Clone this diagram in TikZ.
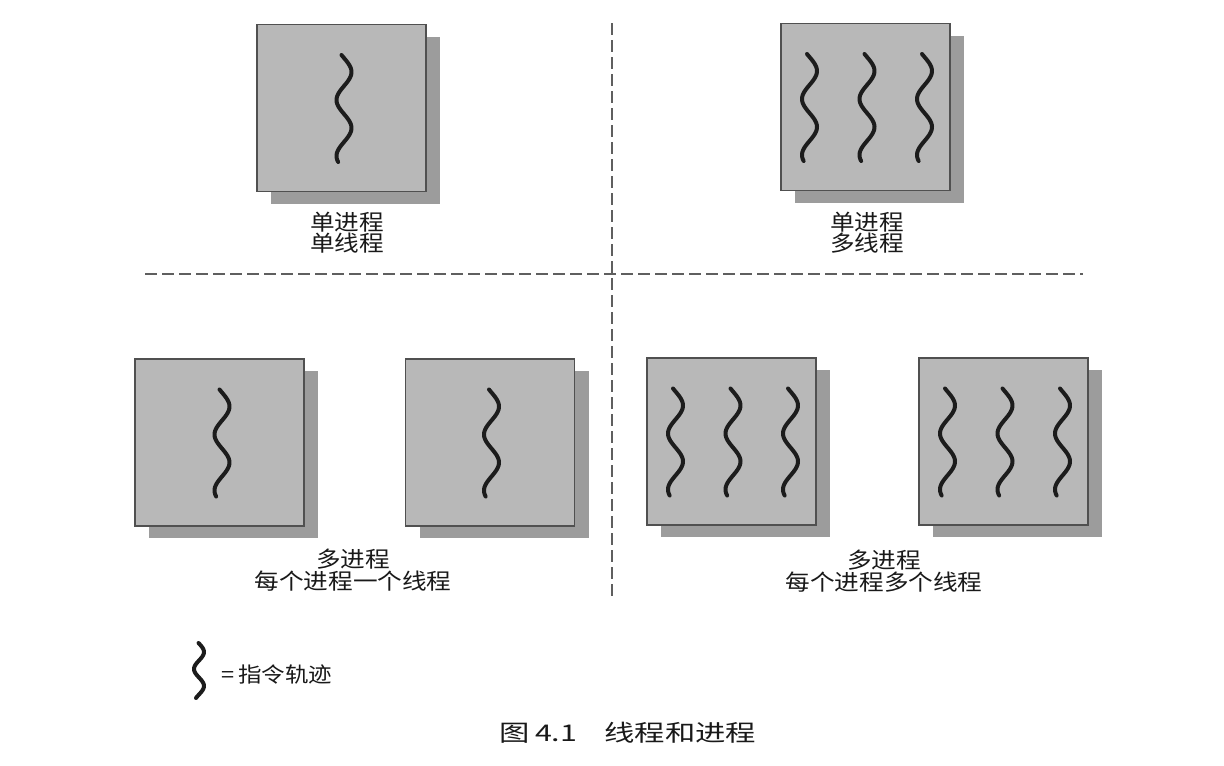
\documentclass[tikz,border=0pt]{standalone}
\usepackage{fontspec}
\setmainfont{Noto Sans CJK SC}
\usetikzlibrary{shadows}
\definecolor{boxfill}{RGB}{184,184,184}
\definecolor{shadowc}{RGB}{156,156,156}
\definecolor{edgec}{RGB}{80,80,80}
\definecolor{threadc}{RGB}{28,28,28}
\definecolor{labelc}{RGB}{25,25,25}
\definecolor{dashc}{RGB}{95,95,95}
\newcommand{\widetext}[2][1.12]{\scalebox{#1}[1]{#2}}
\begin{document}
\begin{tikzpicture}[x=1pt,y=-1pt,
  proc/.style={draw=edgec, line width=1.2pt, fill=boxfill, minimum width=169pt,
    minimum height=167pt, inner sep=0pt,
    drop shadow={shadow xshift=14pt, shadow yshift=-12pt, fill=shadowc, opacity=1}},
  thread/.style={draw=threadc, line width=4pt, line cap=round},
  lbl/.style={font=\fontsize{22}{20}\selectfont, align=center, text=labelc, inner sep=0pt},
  divider/.style={draw=dashc, line width=1.5pt, dash pattern=on 12pt off 5pt},
  thr/.pic={\draw[thread] plot[domain=0:107, samples=60, smooth] ({7.5*sin((\x-17)*6.42857+90)}, \x);},
  thrsmall/.pic={\draw[thread, line width=4pt] plot[domain=0:55, samples=36, smooth] ({5*sin((\x-9)*10.588+90)}, \x);}
]
\fill[white] (0,0) rectangle (1224,766);
\useasboundingbox (0,0) rectangle (1224,766);

% dividers
\coordinate (vt) at (612,23);
\coordinate (vb) at (612,598);
\coordinate (hl) at (145,274);
\coordinate (hr) at (1083,274);
\draw[divider] (vt) -- (vb);
\draw[divider] (hl) -- (hr);

% process boxes
\node[proc] (p1) at (341.5,108) {};
\node[proc] (p2) at (865.5,107) {};
\node[proc] (pa) at (219.5,442.5) {};
\node[proc] (pb) at (490,442.5) {};
\node[proc] (pc) at (731.5,441.5) {};
\node[proc] (pd) at (1003.5,441.5) {};

% threads
\pic at ([shift={(2.5,-53)}]p1.center) {thr};
\foreach \dx in {-56,1.5,59}{
  \pic at ([shift={(\dx,-53)}]p2.center) {thr};
  \pic at ([shift={(\dx,-53)}]pc.center) {thr};
  \pic at ([shift={(\dx,-53)}]pd.center) {thr};
}
\pic at ([shift={(2.5,-53)}]pa.center) {thr};
\pic at ([shift={(1.5,-53)}]pb.center) {thr};

% labels
\node[lbl] (l1) at (347,233) {\widetext{单进程}\\\widetext{单线程}};
\node[lbl] (l2) at (867,233) {\widetext{单进程}\\\widetext{多线程}};
\node[lbl] (l3) at (353,570) {\widetext{多进程}\\\widetext{每个进程一个线程}};
\node[lbl] (l4) at (884,571) {\widetext{多进程}\\\widetext{每个进程多个线程}};

% legend
\pic (leg) at (199,643) {thrsmall};
\node[lbl, anchor=west, font=\fontsize{21}{22}\selectfont] (legtxt) at (221,675)
  {\widetext[1.12]{=\,指令轨迹}};

% caption
\node[lbl, font=\fontsize{23}{24}\selectfont] (cap) at (628,733)
  {\widetext[1.32]{图\,4.1\hspace{0.9em}线程和进程}};
\end{tikzpicture}
\end{document}
